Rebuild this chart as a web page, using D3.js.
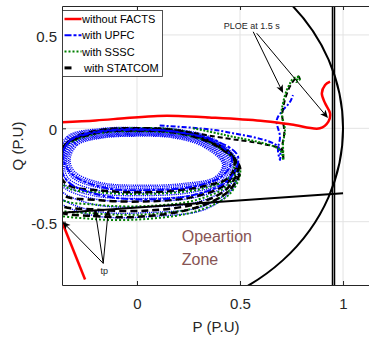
<!DOCTYPE html>
<html>
<head>
<meta charset="utf-8">
<script src="https://cdn.jsdelivr.net/npm/d3@7"></script>
<style>
body { margin: 0; background: #fff; }
text { font-family: "Liberation Sans", Arial, sans-serif; }
</style>
</head>
<body>
<div id="chart"></div>
<script>
// tick values
var xTicks = [0, 0.5, 1];
var yTicks = [-0.5, 0, 0.5];

// without FACTS
var noFacts = [[-0.37,0.032],[-0.2,0.042],[-0.05,0.055],[0.1,0.066],[0.2,0.066],[0.35,0.058],[0.6,0.04],[0.75,0.02],[0.888,0.0],[0.929,0.036],[0.937,0.08],[0.913,0.134],[0.897,0.187],[0.913,0.232],[0.937,0.25]];
var noFactsLow = [[-0.368,-0.49],[-0.252,-0.81]];

// with UPFC : thin loops (dense band) + dash-dot loops + tail to PLOE
var upfcLoops = [
	[[-0.325,-0.17],[-0.29,-0.09],[-0.17,-0.052],[0.0,-0.042],[0.17,-0.05],[0.315,-0.095],[0.415,-0.19],[0.38,-0.26],[0.23,-0.295],[0.02,-0.305],[-0.18,-0.29],[-0.30,-0.235]],
	[[-0.332,-0.168],[-0.297,-0.085],[-0.172,-0.048],[0.0,-0.038],[0.175,-0.046],[0.32,-0.09],[0.42,-0.186],[0.385,-0.265],[0.235,-0.302],[0.022,-0.313],[-0.185,-0.297],[-0.308,-0.242]],
	[[-0.34,-0.17],[-0.30,-0.08],[-0.175,-0.044],[0.0,-0.034],[0.18,-0.042],[0.325,-0.086],[0.425,-0.183],[0.39,-0.27],[0.24,-0.31],[0.025,-0.322],[-0.19,-0.305],[-0.315,-0.25]],
	[[-0.345,-0.172],[-0.305,-0.076],[-0.178,-0.04],[0.0,-0.03],[0.182,-0.038],[0.33,-0.082],[0.43,-0.18],[0.40,-0.274],[0.25,-0.318],[0.03,-0.332],[-0.197,-0.315],[-0.322,-0.256]],
	[[-0.35,-0.172],[-0.31,-0.072],[-0.18,-0.035],[0.0,-0.026],[0.185,-0.034],[0.335,-0.078],[0.437,-0.177],[0.41,-0.28],[0.26,-0.328],[0.035,-0.345],[-0.205,-0.328],[-0.335,-0.265]],
	[[-0.355,-0.175],[-0.315,-0.068],[-0.18,-0.03],[0.0,-0.021],[0.187,-0.03],[0.34,-0.075],[0.445,-0.175],[0.42,-0.285],[0.27,-0.342],[0.04,-0.36],[-0.21,-0.345],[-0.345,-0.275]],
	[[-0.36,-0.18],[-0.32,-0.064],[-0.18,-0.025],[0.0,-0.017],[0.19,-0.026],[0.345,-0.071],[0.452,-0.172],[0.43,-0.29],[0.28,-0.355],[0.045,-0.375],[-0.215,-0.36],[-0.36,-0.29]],
	[[-0.37,-0.19],[-0.325,-0.06],[-0.18,-0.02],[0.0,-0.013],[0.19,-0.022],[0.35,-0.068],[0.46,-0.17],[0.44,-0.295],[0.29,-0.368],[0.05,-0.39],[-0.22,-0.375],[-0.37,-0.30]],
	[[-0.38,-0.2],[-0.33,-0.055],[-0.18,-0.012],[0.0,-0.006],[0.2,-0.015],[0.36,-0.062],[0.475,-0.17],[0.455,-0.3],[0.31,-0.39],[0.06,-0.42],[-0.22,-0.405],[-0.38,-0.32]],
	[[-0.39,-0.21],[-0.335,-0.05],[-0.18,-0.006],[0.0,0.0],[0.2,-0.01],[0.365,-0.058],[0.485,-0.175],[0.465,-0.31],[0.33,-0.415],[0.08,-0.45],[-0.22,-0.44],[-0.39,-0.35]],
	[[-0.40,-0.22],[-0.34,-0.045],[-0.18,-0.002],[0.0,0.004],[0.2,-0.006],[0.37,-0.055],[0.49,-0.18],[0.47,-0.315],[0.34,-0.43],[0.1,-0.47],[-0.22,-0.465],[-0.40,-0.37]]
];
var upfcDash = [
	[[-0.36,-0.15],[-0.32,-0.06],[-0.18,-0.015],[0.0,-0.005],[0.2,-0.02],[0.37,-0.07],[0.46,-0.16],[0.42,-0.25],[0.28,-0.31],[0.08,-0.33],[-0.15,-0.32],[-0.31,-0.25]],
	[[-0.37,-0.2],[-0.33,-0.07],[-0.18,-0.02],[0.0,-0.008],[0.2,-0.02],[0.38,-0.065],[0.49,-0.15],[0.45,-0.27],[0.3,-0.35],[0.08,-0.38],[-0.17,-0.36],[-0.33,-0.29]]
];
var upfcTail = [[0.11,0.015],[0.3,0.0],[0.427,-0.018],[0.686,-0.099],[0.694,-0.17],[0.684,-0.116],[0.694,-0.045],[0.678,0.044],[0.709,0.098],[0.743,0.142],[0.757,0.178]];

// with SSSC
var ssscLoops = [
	[[-0.38,-0.21],[-0.33,-0.075],[-0.18,-0.012],[0.0,0.002],[0.19,-0.008],[0.345,-0.058],[0.47,-0.165],[0.445,-0.265],[0.31,-0.325],[0.09,-0.35],[-0.16,-0.345],[-0.35,-0.31]],
	[[-0.395,-0.235],[-0.345,-0.085],[-0.19,-0.018],[0.0,-0.006],[0.2,-0.016],[0.365,-0.068],[0.485,-0.185],[0.445,-0.30],[0.3,-0.38],[0.07,-0.415],[-0.19,-0.41],[-0.38,-0.37]],
	[[-0.415,-0.27],[-0.355,-0.095],[-0.2,-0.024],[0.0,-0.012],[0.2,-0.024],[0.375,-0.085],[0.495,-0.205],[0.45,-0.33],[0.3,-0.42],[0.05,-0.46],[-0.21,-0.455],[-0.40,-0.42]],
	[[-0.43,-0.29],[-0.365,-0.11],[-0.2,-0.03],[0.0,-0.016],[0.21,-0.03],[0.385,-0.095],[0.5,-0.215],[0.455,-0.345],[0.3,-0.44],[0.05,-0.485],[-0.22,-0.485],[-0.42,-0.44]]
];
var ssscTail = [[0.272,0.0],[0.427,-0.036],[0.694,-0.116],[0.71,-0.17],[0.709,-0.079],[0.718,-0.009],[0.702,0.082],[0.709,0.136],[0.727,0.205],[0.743,0.241],[0.752,0.259],[0.777,0.275],[0.791,0.264],[0.772,0.248],[0.786,0.28]];

// with STATCOM
var statcomLoops = [
	[[-0.38,-0.22],[-0.33,-0.07],[-0.18,-0.01],[0.0,0.0],[0.18,-0.01],[0.34,-0.06],[0.47,-0.16],[0.45,-0.26],[0.32,-0.31],[0.1,-0.34],[-0.15,-0.335],[-0.34,-0.30]],
	[[-0.40,-0.24],[-0.34,-0.08],[-0.18,-0.015],[0.0,-0.005],[0.2,-0.015],[0.36,-0.07],[0.48,-0.18],[0.44,-0.29],[0.3,-0.36],[0.08,-0.39],[-0.18,-0.385],[-0.37,-0.35]],
	[[-0.41,-0.26],[-0.35,-0.09],[-0.2,-0.02],[0.0,-0.01],[0.2,-0.02],[0.37,-0.08],[0.49,-0.2],[0.44,-0.32],[0.3,-0.40],[0.06,-0.44],[-0.2,-0.435],[-0.39,-0.40]],
	[[-0.43,-0.28],[-0.36,-0.10],[-0.2,-0.025],[0.0,-0.012],[0.2,-0.025],[0.38,-0.09],[0.5,-0.21],[0.45,-0.33],[0.3,-0.42],[0.05,-0.47],[-0.21,-0.47],[-0.41,-0.43]]
];
var statcomTail = [[0.2,-0.01],[0.427,-0.053],[0.588,-0.079],[0.703,-0.116],[0.71,-0.16],[0.705,-0.1],[0.715,-0.02],[0.705,0.07],[0.715,0.14],[0.74,0.22],[0.765,0.262],[0.785,0.278],[0.79,0.262]];

// operating limits
var limitP = [0.946, 0.957];
var limitLine = [[-0.37,-0.452],[1.0,-0.348]];

// annotations: [x1,y1,x2,y2]
var ploeArrows = [[0.564,0.517,0.709,0.189],[0.581,0.509,0.927,0.055]];
var tpArrows = [[-0.164,-0.723,-0.362,-0.5],[-0.164,-0.723,-0.204,-0.434],[-0.164,-0.723,-0.139,-0.434]];

var legendNames = ["without FACTS", "with UPFC", "with SSSC", "with STATCOM"];
var legendColors = ["#ff0000", "#0000ff", "#008000", "#000000"];
var legendDash = [null, "7,2,3,2", "2,2", "7,12"];

var W = 369, H = 341;
var svg = d3.select("#chart").append("svg")
	.attr("width", W)
	.attr("height", H)

var x = d3.scaleLinear().domain([-0.364, 1.126]).range([62, 369]);
var y = d3.scaleLinear().domain([-0.839, 0.655]).range([285, 6]);

svg.append("defs").append("clipPath").attr("id", "clip")
	.append("rect")
	.attr("x", 62).attr("y", 6)
	.attr("width", 307).attr("height", 279)

// grid
var grid = svg.append("g").attr("stroke", "#e3e3e3").attr("stroke-width", 1);
xTicks.forEach(function(t){
	grid.append("line").attr("x1", x(t)).attr("x2", x(t)).attr("y1", 6).attr("y2", 285)
})
yTicks.forEach(function(t){
	grid.append("line").attr("x1", 62).attr("x2", 369).attr("y1", y(t)).attr("y2", y(t))
})

var plot = svg.append("g").attr("clip-path", "url(#clip)");

var line = d3.line().x(function(d){ return x(d[0]) }).y(function(d){ return y(d[1]) });
var loop = d3.line().x(function(d){ return x(d[0]) }).y(function(d){ return y(d[1]) })
	.curve(d3.curveCatmullRomClosed.alpha(0.5));
var smooth = d3.line().x(function(d){ return x(d[0]) }).y(function(d){ return y(d[1]) })
	.curve(d3.curveCatmullRom.alpha(0.5));

// UPFC dense band
plot.selectAll(".upfc")
	.data(upfcLoops)
	.enter()
	.append("path")
	.attr("d", loop)
	.attr("fill", "none")
	.attr("stroke", "#0000ff")
	.attr("stroke-width", 1.4)
	.attr("stroke-dasharray", "1.2,1")

plot.selectAll(".sssc")
	.data(ssscLoops)
	.enter()
	.append("path")
	.attr("d", loop)
	.attr("fill", "none")
	.attr("stroke", "#008000")
	.attr("stroke-width", 2)
	.attr("stroke-dasharray", "2,2")

plot.selectAll(".statcom")
	.data(statcomLoops)
	.enter()
	.append("path")
	.attr("d", loop)
	.attr("fill", "none")
	.attr("stroke", "#000")
	.attr("stroke-width", 2.5)
	.attr("stroke-dasharray", "7,4")

plot.selectAll(".upfcdash")
	.data(upfcDash)
	.enter()
	.append("path")
	.attr("d", loop)
	.attr("fill", "none")
	.attr("stroke", "#0000ff")
	.attr("stroke-width", 2)
	.attr("stroke-dasharray", "7,2,3,2")

plot.append("path").attr("d", smooth(upfcTail))
	.attr("fill", "none").attr("stroke", "#0000ff").attr("stroke-width", 2).attr("stroke-dasharray", "5,2,2,2")
plot.append("path").attr("d", smooth(statcomTail))
	.attr("fill", "none").attr("stroke", "#000").attr("stroke-width", 2).attr("stroke-dasharray", "5,3")
plot.append("path").attr("d", smooth(ssscTail))
	.attr("fill", "none").attr("stroke", "#008000").attr("stroke-width", 2).attr("stroke-dasharray", "2,1.5")

// limits: circle of radius 1, P limit and line
plot.append("ellipse")
	.attr("cx", x(0)).attr("cy", y(0))
	.attr("rx", x(1) - x(0)).attr("ry", y(0) - y(1))
	.attr("fill", "none").attr("stroke", "#000").attr("stroke-width", 2)

limitP.forEach(function(p){
	plot.append("line")
		.attr("x1", Math.round(x(p)) + 0.5).attr("x2", Math.round(x(p)) + 0.5).attr("y1", 6).attr("y2", 285)
		.attr("stroke", "#000").attr("stroke-width", 1.5)
})
plot.append("path").attr("d", line(limitLine))
	.attr("fill", "none").attr("stroke", "#000").attr("stroke-width", 2)

// without FACTS
plot.append("path").attr("d", smooth(noFacts))
	.attr("fill", "none").attr("stroke", "#ff0000").attr("stroke-width", 2.5)
plot.append("path").attr("d", line(noFactsLow))
	.attr("fill", "none").attr("stroke", "#ff0000").attr("stroke-width", 2.5)

// arrows
function arrow(a){
	var x1 = x(a[0]), y1 = y(a[1]), x2 = x(a[2]), y2 = y(a[3]);
	var ang = Math.atan2(y2 - y1, x2 - x1);
	svg.append("line")
		.attr("x1", x1).attr("y1", y1).attr("x2", x2 - 5*Math.cos(ang)).attr("y2", y2 - 5*Math.sin(ang))
		.attr("stroke", "#000").attr("stroke-width", 1)
	svg.append("path")
		.attr("d", "M0,0L-8,-3.5L-6,0L-8,3.5Z")
		.attr("transform", "translate(" + x2 + "," + y2 + ") rotate(" + (ang*180/Math.PI) + ")")
		.attr("fill", "#000")
}
ploeArrows.forEach(arrow);
tpArrows.forEach(arrow);

svg.append("text").text("PLOE at 1.5 s")
	.attr("x", x(0.557)).attr("y", y(0.530))
	.attr("text-anchor", "middle").style("font-size", "9px").style("fill", "#262626")
svg.append("text").text("tp")
	.attr("x", x(-0.159)).attr("y", y(-0.78))
	.attr("text-anchor", "middle").style("font-size", "9px").style("fill", "#262626")
svg.append("text").text("Opeartion")
	.attr("x", x(0.217)).attr("y", y(-0.607))
	.style("font-size", "16px").style("fill", "#875454")
svg.append("text").text("Zone")
	.attr("x", x(0.217)).attr("y", y(-0.732))
	.style("font-size", "16px").style("fill", "#875454")

// axes
var xAxis = d3.axisBottom(x).tickValues(xTicks).tickSizeInner(-4).tickSizeOuter(0).tickPadding(13)
	.tickFormat(function(d){ return String(d) });
var yAxis = d3.axisLeft(y).tickValues(yTicks).tickSizeInner(-4).tickSizeOuter(0).tickPadding(5)
	.tickFormat(function(d){ return String(d) });
var topAxis = d3.axisTop(x).tickValues(xTicks).tickSizeInner(-4).tickSizeOuter(0).tickFormat("");

var gx = svg.append("g").attr("transform", "translate(0,285)").call(xAxis);
var gy = svg.append("g").attr("transform", "translate(62,0)").call(yAxis);
var gt = svg.append("g").attr("transform", "translate(0,6)").call(topAxis);
[gx, gy, gt].forEach(function(g){
	g.selectAll("path,line").attr("stroke", "#262626")
	g.selectAll("text").style("font-size", "15px").style("fill", "#262626").style("font-family", "'Liberation Sans', Arial, sans-serif")
})
gy.selectAll("text").attr("dy", "0.42em")

svg.append("text").text("P (P.U)")
	.attr("x", 216).attr("y", 332)
	.attr("text-anchor", "middle").style("font-size", "15px").style("fill", "#262626")
svg.append("text").text("Q (P.U)")
	.attr("transform", "translate(23,146) rotate(-90)")
	.attr("text-anchor", "middle").style("font-size", "15px").style("fill", "#262626")

// legend
var lg = svg.append("g");
lg.append("rect").attr("x", 62.5).attr("y", 10.5).attr("width", 100).attr("height", 66)
	.attr("fill", "#fff").attr("stroke", "#262626").attr("stroke-width", 0.8)
legendNames.forEach(function(n, i){
	var yy = 19 + i*16.3;
	lg.append("line").attr("x1", 64.5).attr("x2", 81.5).attr("y1", yy).attr("y2", yy)
		.attr("stroke", legendColors[i]).attr("stroke-width", i == 0 ? 2.5 : (i == 3 ? 3 : 2))
		.attr("stroke-dasharray", legendDash[i])
	lg.append("text").text(n).attr("x", i == 3 ? 84 : 82).attr("y", yy + 4)
		.style("font-size", "11px").style("fill", "#000")
})
</script>
</body>
</html>
